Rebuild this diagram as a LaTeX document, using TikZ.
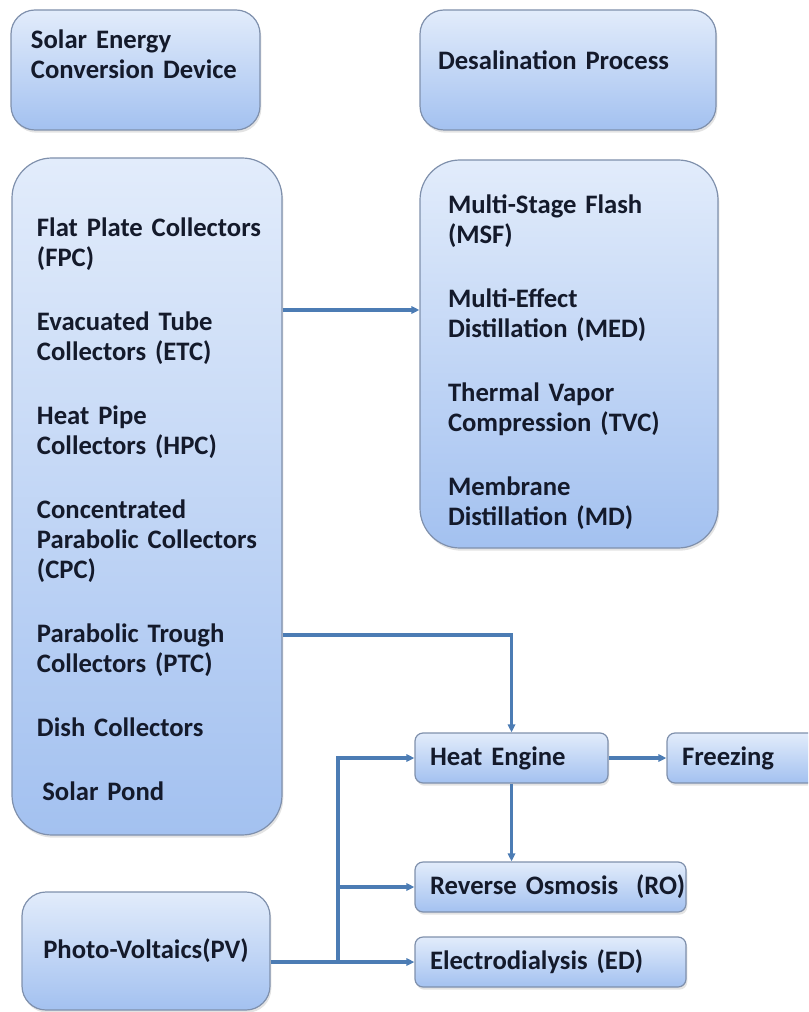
\documentclass[tikz,border=0pt]{standalone}
\usepackage{fontspec}
\setmainfont{Carlito}
\usetikzlibrary{positioning, arrows.meta, shadows, calc}
\definecolor{ink}{HTML}{141a2b}
\definecolor{rim}{HTML}{7f90ac}
\definecolor{skytop}{HTML}{e2ecfb}
\definecolor{skybot}{HTML}{a3c1f0}
\definecolor{flow}{HTML}{4c7cb4}
% struts used to nudge the text block inside a box
\newcommand{\padtop}[1]{\rule{0pt}{#1}}
\newcommand{\padbot}[1]{\rule[-#1]{0pt}{#1}}

\begin{document}
\begin{tikzpicture}[x=0.75pt, y=-0.75pt,
  font=\fontsize{20}{22.5}\selectfont\bfseries, text=ink,
  blk/.style={draw=rim, line width=0.9pt, top color=skytop, bottom color=skybot,
              align=left, inner ysep=0pt, inner xsep=0pt,
              drop shadow={shadow xshift=1pt, shadow yshift=-2pt, opacity=0.22}},
  pad/.style={execute at begin node={\leftskip=#1\relax}},
  big/.style={blk, rounded corners=30pt},
  head/.style={blk, rounded corners=18pt, minimum height=90pt},
  small/.style={blk, rounded corners=6pt, minimum height=37.5pt, pad=11.25pt},
  flow/.style={draw=flow, line width=2.3pt, -{Triangle[length=6pt, width=5.5pt]}}
]
  \useasboundingbox (0,0) rectangle (808,1012);
  \clip (0,0) rectangle (808,1012);

  % headers
  \node[head, text width=186.75pt, pad=15pt]
    (sedc) at (135.5,70) {Solar Energy\\Conversion Device\padbot{24pt}};
  \node[head, text width=222pt, pad=13.5pt]
    (desal) at (568,70) {Desalination Process\padbot{15.5pt}};

  % collectors and thermal processes
  \node[big, text width=202.5pt, minimum height=507.75pt, pad=18.75pt]
    (coll) at (147,496.5) {\padtop{33pt}Flat Plate Collectors\\(FPC)\\[25.5pt]
      Evacuated Tube\\Collectors (ETC)\\[25.5pt]
      Heat Pipe\\Collectors (HPC)\\[25.5pt]
      Concentrated\\Parabolic Collectors\\(CPC)\\[25.5pt]
      Parabolic Trough\\Collectors (PTC)\\[25.5pt]
      Dish Collectors\\[25.5pt]
      \hspace{0.2em}Solar Pond};
  \node[big, text width=223.5pt, minimum height=291pt, pad=21pt]
    (proc) at (569,354) {\padtop{26pt}Multi-Stage Flash\\(MSF)\\[25.5pt]
      Multi-Effect\\Distillation (MED)\\[25.5pt]
      Thermal Vapor\\Compression (TVC)\\[25.5pt]
      Membrane\\Distillation (MD)};

  % lower chain
  \node[small, text width=144.75pt] (heat) at (511.5,758) {Heat Engine};
  \node[small, text width=126pt] (freeze) at (751,758) {Freezing};
  \node[small, text width=203.25pt] (ro) at (550.5,887) {Reverse Osmosis~~(RO)};
  \node[small, text width=203.25pt] (ed) at (550.5,962) {Electrodialysis (ED)};
  \node[head, text width=186pt, minimum height=88.5pt, align=center]
    (pv) at (146,951) {Photo-Voltaics(PV)};

  % connectors
  \coordinate (msfrow) at (0,310);
  \coordinate (ptcrow) at (0,635);
  \coordinate (fork) at (338,962);
  \draw[flow] (coll.east |- msfrow) -- (proc.west |- msfrow);
  \draw[flow] (coll.east |- ptcrow) -| (heat.north);
  \draw[flow] (heat.east) -- (freeze.west);
  \draw[flow] (heat.south) -- (heat.south |- ro.north);
  \draw[flow] (pv.east |- ed.west) -- (ed.west);
  \draw[flow] (fork) |- (heat.west);
  \draw[flow] (fork |- ro.west) -- (ro.west);
\end{tikzpicture}
\end{document}
